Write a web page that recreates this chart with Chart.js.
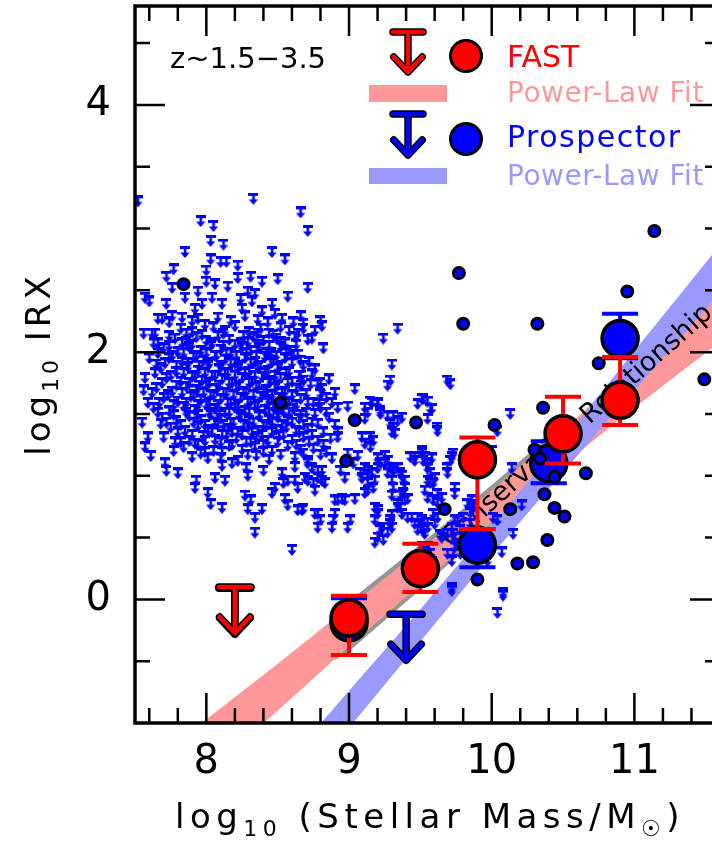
<!DOCTYPE html>
<html>
<head>
<meta charset="utf-8">
<script src="https://cdn.jsdelivr.net/npm/chart.js@4.4.1/dist/chart.umd.min.js"></script>
<style>
  html, body { margin: 0; padding: 0; overflow: hidden; background: #fff; }
  canvas { display: block; }
</style>
</head>
<body>
<canvas id="irxChart" width="724" height="844"></canvas>
<script>
// binned stacks, log10 IRX vs log10 stellar mass
const fastMass = [9.0, 9.5, 9.9, 10.5, 10.9];
const fastIRX  = [-0.15, 0.25, 1.13, 1.34, 1.61];
const fastHigh = [0.03, 0.45, 1.31, 1.64, 1.96];
const fastLow  = [-0.45, 0.06, 0.57, 1.10, 1.41];

const prospMass = [9.0, 9.9, 10.4, 10.9];
const prospIRX  = [-0.19, 0.44, 1.10, 2.11];
const prospHigh = [0.01, 0.57, 1.28, 2.31];
const prospLow  = [-0.45, 0.26, 0.94, 1.95];

// stacked upper limits
const fastLimMass  = [8.2];
const fastLimIRX   = [0.10];
const prospLimMass = [8.2, 9.4];
const prospLimIRX  = [0.09, -0.12];

// power-law fit bands
const fastFitMass = [7.9, 8.5, 9.0, 9.5, 10.0, 10.5, 11.0, 11.7];
const fastFitHigh = [-1.06, -0.52, -0.06, 0.40, 0.88, 1.37, 1.89, 2.63];
const fastFitLow  = [-1.52, -0.90, -0.38, 0.12, 0.62, 1.09, 1.55, 2.17];

const prospFitMass = [8.6, 9.0, 9.5, 10.0, 10.5, 11.0, 11.7];
const prospFitHigh = [-1.27, -0.74, -0.08, 0.60, 1.29, 2.01, 3.01];
const prospFitLow  = [-1.61, -1.04, -0.34, 0.36, 1.03, 1.69, 2.61];

// conservative relationship
const consMass = [8.9, 9.0, 9.5, 10.0, 10.38, 10.42];
const consHigh = [-0.17, -0.015, 0.445, 0.925, 1.297, 1.26];
const consLow  = [-0.49, -0.42, 0.08, 0.60, 0.98, 1.05];

// individual IR detections
const detections = [
  [7.84,2.55],[8.52,1.59],[9.04,1.45],[9.47,1.43],[8.98,1.12],[9.67,0.73],[9.80,2.23],
  [11.14,2.98],[9.77,2.64],[10.95,2.49],[10.32,2.23],[10.75,1.91],[11.49,1.78],[10.36,1.55],
  [10.02,1.41],[10.30,1.21],[10.34,1.14],[10.44,0.99],[10.66,1.02],[10.37,0.85],[10.44,0.74],
  [10.51,0.67],[10.39,0.48],[10.18,0.29],[10.29,0.30],[9.90,0.16],[10.13,0.73]
];

// individual galaxies, IRX upper limits
const cloudLimits = [
  [7.52,3.22],[8.33,3.24],[8.66,3.13],[8.71,2.98],[7.96,3.06],[8.05,3.02],[8.03,2.90],[8.12,2.87],
  [7.85,2.81],[8.46,2.81],[8.55,2.75],[8.03,2.75],[8.00,2.66],[8.10,2.73],[8.14,2.73],[8.22,2.70],
  [7.77,2.67],[7.72,2.61],[8.31,2.61],[8.22,2.60],[8.00,2.57],[8.39,2.57],[8.50,2.59],[8.15,2.53],
  [8.06,2.55],[7.76,2.52],[8.71,2.52],[7.94,2.49],[8.29,2.49],[7.57,2.44],[7.60,2.41],[7.72,2.39],
  [7.85,2.44],[8.04,2.44],[8.11,2.39],[8.24,2.43],[8.25,2.35],[8.34,2.47],[8.32,2.41],[8.57,2.45],
  [8.39,2.33],[8.46,2.39],[8.48,2.31],[8.66,2.29],[7.69,2.27],[7.76,2.29],[7.56,2.15],[7.64,2.15],
  [7.92,2.35],[7.97,2.39],[7.94,2.27],[7.99,2.22],[7.63,2.07],[7.60,1.95],[7.65,1.90],[7.57,1.79],
  [7.56,1.69],[7.59,1.59],[8.80,2.25],[8.82,2.03],[9.24,2.11],[9.34,2.19],[9.30,1.90],[9.69,1.77],
  [8.68,2.19],[8.76,2.17],[8.61,1.98],[8.66,1.93],[8.68,2.23],[8.64,2.15],[8.81,2.21],[8.74,2.11],
  [8.71,2.10],[8.66,1.81],[8.68,1.77],[8.73,1.74],[8.80,1.75],[8.81,1.70],[9.29,1.77],[9.27,1.73],
  [9.04,1.70],
  // core
  [7.66,2.27],[7.74,2.24],[7.83,2.28],[7.90,2.25],[8.08,2.28],[8.17,2.25],[8.27,2.29],[8.36,2.26],[8.43,2.24],[8.53,2.27],[8.61,2.24],
  [7.82,2.19],[7.90,2.16],[8.05,2.20],[8.13,2.17],[8.20,2.21],[8.30,2.16],[8.38,2.19],[8.44,2.15],[8.52,2.20],[8.58,2.17],
  [7.62,2.15],[7.74,2.13],[7.86,2.15],[7.97,2.14],[8.12,2.15],[8.26,2.13],[8.36,2.15],[8.47,2.14],[8.62,2.12],
  [7.78,2.11],[7.86,2.08],[7.93,2.12],[8.00,2.09],[8.08,2.13],[8.16,2.10],[8.24,2.07],[8.33,2.12],[8.40,2.09],[8.49,2.11],[8.55,2.07],
  [7.66,2.07],[7.74,2.05],[7.83,2.07],[7.90,2.06],[8.04,2.07],[8.12,2.05],[8.20,2.06],[8.29,2.08],[8.36,2.06],[8.44,2.05],[8.52,2.08],[8.63,2.06],
  [7.70,2.03],[7.80,2.00],[7.88,2.04],[7.96,2.01],[8.03,2.05],[8.10,2.02],[8.17,1.99],[8.25,2.04],[8.31,2.01],[8.37,2.03],[8.45,1.99],[8.52,2.04],[8.59,2.01],
  [7.66,1.99],[7.76,1.97],[7.84,1.99],[7.93,1.97],[8.00,1.99],[8.07,1.97],[8.14,1.99],[8.21,1.97],[8.28,1.99],[8.35,1.97],[8.42,1.99],[8.49,1.97],[8.56,1.99],[8.64,1.98],
  [7.74,1.95],[7.83,1.92],[7.91,1.96],[7.98,1.93],[8.06,1.97],[8.13,1.94],[8.20,1.91],[8.27,1.95],[8.34,1.92],[8.41,1.96],[8.47,1.93],[8.55,1.95],[8.72,1.92],
  [7.71,1.91],[7.79,1.89],[7.87,1.91],[7.95,1.89],[8.02,1.91],[8.10,1.89],[8.17,1.91],[8.24,1.89],[8.31,1.91],[8.38,1.89],[8.45,1.91],[8.52,1.89],[8.60,1.91],[8.68,1.89],
  [7.68,1.87],[7.79,1.84],[7.87,1.88],[7.94,1.85],[8.01,1.89],[8.09,1.86],[8.15,1.83],[8.22,1.87],[8.30,1.84],[8.36,1.88],[8.43,1.85],[8.50,1.87],[8.58,1.84],[8.76,1.86],
  [7.64,1.83],[7.75,1.81],[7.84,1.83],[7.92,1.81],[7.99,1.83],[8.06,1.81],[8.13,1.83],[8.20,1.81],[8.27,1.83],[8.34,1.81],[8.41,1.83],[8.48,1.81],[8.56,1.83],[8.65,1.81],[8.74,1.82],
  [7.72,1.79],[7.82,1.76],[7.90,1.80],[7.97,1.77],[8.04,1.81],[8.11,1.78],[8.18,1.75],[8.25,1.79],[8.32,1.76],[8.39,1.80],[8.45,1.77],[8.52,1.79],[8.60,1.76],[8.86,1.78],
  [7.69,1.75],[7.79,1.73],[7.88,1.75],[7.95,1.73],[8.02,1.75],[8.09,1.73],[8.16,1.75],[8.23,1.73],[8.30,1.75],[8.37,1.73],[8.44,1.75],[8.50,1.73],[8.57,1.75],[8.66,1.73],[8.78,1.74],
  [7.65,1.71],[7.76,1.68],[7.86,1.72],[7.93,1.69],[8.00,1.73],[8.07,1.70],[8.14,1.67],[8.21,1.71],[8.28,1.68],[8.35,1.72],[8.42,1.69],[8.48,1.71],[8.55,1.68],[8.63,1.70],[8.90,1.67],
  [7.62,1.67],[7.73,1.65],[7.83,1.67],[7.91,1.65],[7.98,1.67],[8.05,1.65],[8.12,1.67],[8.19,1.65],[8.26,1.67],[8.33,1.65],[8.40,1.67],[8.46,1.65],[8.53,1.67],[8.60,1.65],[8.70,1.66],[8.80,1.66],
  [7.70,1.63],[7.80,1.60],[7.89,1.64],[7.96,1.61],[8.03,1.65],[8.10,1.62],[8.17,1.59],[8.24,1.63],[8.31,1.60],[8.38,1.64],[8.44,1.61],[8.51,1.63],[8.58,1.60],[8.66,1.62],[8.75,1.59],[8.84,1.63],
  [7.67,1.59],[7.77,1.57],[7.86,1.59],[7.94,1.57],[8.02,1.59],[8.08,1.57],[8.15,1.59],[8.22,1.57],[8.29,1.59],[8.36,1.57],[8.43,1.59],[8.49,1.57],[8.56,1.59],[8.63,1.57],[8.71,1.59],[8.79,1.58],[8.88,1.59],
  [7.63,1.55],[7.74,1.52],[7.84,1.56],[7.92,1.53],[8.00,1.57],[8.06,1.54],[8.13,1.51],[8.20,1.55],[8.27,1.52],[8.34,1.56],[8.41,1.53],[8.47,1.55],[8.54,1.52],[8.61,1.54],[8.70,1.51],[8.80,1.55],
  [7.66,1.51],[7.77,1.49],[7.86,1.51],[7.94,1.49],[8.02,1.51],[8.09,1.49],[8.16,1.51],[8.23,1.49],[8.30,1.51],[8.37,1.49],[8.44,1.51],[8.50,1.49],[8.58,1.51],[8.66,1.49],[8.76,1.50],[8.84,1.51],
  [7.69,1.47],[7.79,1.44],[7.88,1.48],[7.96,1.45],[8.03,1.49],[8.10,1.46],[8.17,1.43],[8.24,1.47],[8.30,1.44],[8.37,1.48],[8.44,1.45],[8.50,1.47],[8.57,1.44],[8.65,1.46],[8.74,1.43],[8.86,1.47],
  [7.72,1.43],[7.82,1.41],[7.91,1.43],[7.99,1.41],[8.06,1.43],[8.12,1.41],[8.19,1.43],[8.26,1.41],[8.33,1.43],[8.40,1.41],[8.46,1.43],[8.53,1.41],[8.60,1.43],[8.68,1.41],[8.78,1.42],[8.90,1.41],
  [7.75,1.39],[7.85,1.36],[7.94,1.40],[8.01,1.37],[8.08,1.41],[8.15,1.38],[8.22,1.35],[8.29,1.39],[8.36,1.36],[8.42,1.40],[8.49,1.37],[8.56,1.39],[8.63,1.36],[8.71,1.38],[8.82,1.35],
  [7.80,1.35],[7.90,1.33],[8.04,1.35],[8.11,1.33],[8.18,1.35],[8.25,1.33],[8.32,1.35],[8.39,1.33],[8.46,1.35],[8.54,1.33],[8.65,1.35],[8.74,1.33],[8.92,1.35],
  [7.70,1.31],[7.88,1.28],[7.98,1.32],[8.06,1.29],[8.14,1.33],[8.21,1.30],[8.28,1.27],[8.35,1.31],[8.43,1.28],[8.51,1.32],[8.60,1.29],[8.68,1.31],[8.78,1.28],[8.87,1.30],
  [7.78,1.27],[7.94,1.25],[8.10,1.27],[8.18,1.25],[8.31,1.27],[8.40,1.25],[8.50,1.27],[8.63,1.25],[8.72,1.27],[8.82,1.25],
  [7.84,1.23],[8.05,1.20],[8.16,1.24],[8.25,1.21],[8.34,1.23],[8.46,1.20],[8.57,1.24],[8.66,1.21],[8.75,1.22],[8.84,1.19],
  [7.96,1.18],[8.11,1.19],[8.29,1.17],[8.40,1.19],[8.52,1.17],[8.68,1.18],[8.80,1.17],
  [7.90,1.15],[8.22,1.12],[8.35,1.16],[8.44,1.13],[8.62,1.15],[8.71,1.12],[8.88,1.14],
  [8.28,1.06],[8.40,1.04],[8.62,1.07],
  // lower-left tail
  [7.55,1.43],[7.59,1.31],[7.57,1.23],[7.61,1.16],[7.68,1.42],[7.71,1.10],[7.72,1.04],[7.80,1.02],
  [7.77,1.20],[7.82,1.27],[7.92,1.26],[7.99,1.28],[7.93,0.96],[7.92,0.90],[7.99,1.19],[8.01,1.14],
  [8.06,0.98],[8.13,0.96],[8.10,1.14],[8.18,1.10],[8.11,1.08],[8.01,0.86],[8.03,0.77],[8.11,0.74],
  [8.29,1.00],[8.27,0.84],[8.31,0.80],[8.29,0.73],[8.34,0.66],[8.34,0.54],[8.39,0.73],[8.46,0.86],
  [8.48,0.90],[8.55,0.81],[8.57,0.76],[8.53,1.02],[8.57,0.96],[8.54,0.94],[8.64,0.72],[8.67,0.72],
  [8.60,0.40],
  // 8.6 - 9.0
  [8.62,0.96],[8.64,0.90],[8.69,0.98],[8.71,0.96],[8.75,0.94],[8.76,0.88],[8.78,0.98],[8.81,0.96],
  [8.83,0.94],[8.81,1.04],[8.74,1.06],[8.78,1.04],[8.71,1.10],[8.90,0.80],[8.95,0.81],[8.76,0.69],
  [8.80,0.64],[8.78,0.58],[8.90,0.69],[8.89,0.64],[8.88,0.58],[8.92,0.80],[8.97,0.80],[9.04,0.81],
  [9.01,0.64],[8.99,0.58],[8.78,0.69],[8.68,0.73],[8.94,1.04],[8.97,0.98],[8.92,1.31],[8.99,1.18],
  [9.03,1.10],
  // 9.0 - 9.45
  [8.92,1.55],[8.99,1.56],[9.11,1.55],[9.16,1.59],[9.20,1.58],[9.22,1.50],[9.27,1.48],[9.31,1.48],
  [9.37,1.47],[9.34,1.44],[9.31,1.39],[9.29,1.42],[9.32,1.34],[9.30,1.35],[9.15,1.60],[9.20,1.59],
  [9.22,1.52],[9.13,1.51],[9.11,1.46],[9.09,1.31],[9.15,1.31],[9.17,1.28],[9.11,1.26],[9.15,1.23],
  [9.06,1.16],[9.11,1.06],[9.13,1.00],[9.18,0.96],[9.09,0.98],[9.13,0.88],[9.08,1.02],[9.13,1.04],
  [9.16,1.02],[9.20,1.06],[9.22,1.10],[9.13,0.94],[9.17,0.90],[9.11,0.86],[9.20,1.14],[9.25,1.10],
  [9.27,1.02],[9.30,0.96],[9.31,0.90],[9.30,0.84],[9.36,0.84],[9.41,0.81],[9.34,1.06],[9.37,1.00],
  [9.39,0.96],[9.25,1.16],[9.27,1.12],[9.29,1.06],[9.31,1.04],[9.36,1.02],[9.38,0.96],[9.39,0.90],
  [9.38,0.86],[9.18,0.74],[9.20,0.69],[9.18,0.64],[9.23,0.58],[9.27,0.54],[9.20,0.50],[9.18,0.46],
  [9.34,0.74],[9.30,0.68],[9.29,0.61],[9.20,0.72],[9.34,0.77],[9.36,0.74],[9.37,0.69],[9.39,0.80],
  [9.41,0.66],[9.29,0.64],[9.30,0.58],[9.22,0.56],[9.24,0.48],[9.44,0.66],[9.46,0.61],
  // 9.45 - 9.9
  [9.51,1.62],[9.55,1.60],[9.57,1.54],[9.55,1.46],[9.62,1.39],[9.48,1.58],[9.52,1.62],[9.58,1.54],
  [9.62,1.36],[9.46,1.15],[9.51,1.20],[9.53,1.15],[9.55,1.10],[9.57,1.02],[9.55,0.96],[9.59,0.94],
  [9.53,0.88],[9.55,0.82],[9.62,0.85],[9.65,0.82],[9.43,1.15],[9.46,1.12],[9.51,1.18],[9.52,1.12],
  [9.55,1.06],[9.58,1.14],[9.60,0.98],[9.57,0.94],[9.59,0.80],[9.62,0.78],[9.69,1.06],[9.72,1.15],
  [9.69,1.02],[9.73,1.18],[9.71,1.12],[9.74,0.85],[9.74,0.90],[9.71,1.74],[9.83,0.77],[9.85,0.70],
  [9.86,0.76],[9.86,0.80],[9.87,0.74],[9.48,0.66],[9.50,0.61],[9.48,0.56],[9.52,0.56],[9.55,0.62],
  [9.55,0.58],[9.62,0.66],[9.59,0.69],[9.51,0.64],[9.51,0.57],[9.53,0.53],[9.60,0.61],[9.64,0.52],
  [9.69,0.53],[9.74,0.50],[9.65,0.50],[9.72,0.58],[9.76,0.64],[9.80,0.66],[9.73,0.53],[9.76,0.45],
  [9.78,0.37],[9.69,0.37],[9.74,0.42],[9.73,0.37],[9.72,0.31],[9.74,0.64],[9.78,0.56],[9.55,0.42],
  [9.57,0.37],[9.58,0.30],[9.51,0.42],[9.53,0.38],[9.85,0.61],
  // beyond 9.9
  [10.13,1.50],[10.04,1.36],[10.14,1.06],[10.21,0.76],[10.15,0.53],[10.07,0.38],[10.08,0.05],
  [9.72,0.07],[10.01,0.66],[10.04,0.64],[10.00,1.20],[9.99,0.44],[9.97,0.31],[9.94,0.50],
  [9.95,0.40],[10.08,0.03],[10.04,-0.11],[9.72,0.09]
];

const xTickLabels = ['8', '9', '10', '11'];
const yTickLabels = ['0', '2', '4'];

const RED = '#ff0000';
const BLUE = '#0000ff';
const SALMON = 'rgb(255,153,153)';
const LILAC = 'rgb(153,153,255)';
const GREY = 'rgb(150,150,150)';
const FONT = '"DejaVu Sans"';

function pts(xs, ys) {
  return xs.map((v, i) => ({x: v, y: ys[i]}));
}

// little "T over arrow" glyph used for each upper limit
function limitGlyph() {
  const c = document.createElement('canvas');
  c.width = 10; c.height = 12;
  const g = c.getContext('2d');
  g.fillStyle = BLUE;
  g.fillRect(0, 0, 10, 3);
  g.fillRect(3.8, 2, 2.6, 5.5);
  g.beginPath();
  g.moveTo(0.4, 6.5); g.lineTo(9.6, 6.5); g.lineTo(5, 12);
  g.closePath(); g.fill();
  return c;
}

function drawArrow(ctx, x, y, color, len, half) {
  const path = () => {
    ctx.beginPath();
    ctx.moveTo(x - half, y); ctx.lineTo(x + half, y);
    ctx.moveTo(x, y); ctx.lineTo(x, y + len);
    ctx.moveTo(x - half * 0.95, y + len - half); ctx.lineTo(x, y + len); ctx.lineTo(x + half * 0.95, y + len - half);
  };
  ctx.save();
  ctx.lineCap = 'round'; ctx.lineJoin = 'round';
  path(); ctx.strokeStyle = '#000'; ctx.lineWidth = 7.5; ctx.stroke();
  path(); ctx.strokeStyle = color; ctx.lineWidth = 4.5; ctx.stroke();
  ctx.restore();
}

function drawRich(ctx, parts, x, y) {
  let w = 0;
  parts.forEach(p => { ctx.font = p[1] + 'px ' + FONT; w += ctx.measureText(p[0]).width; });
  let cx = x - w / 2;
  parts.forEach(p => {
    ctx.font = p[1] + 'px ' + FONT;
    ctx.fillText(p[0], cx, y + p[2]);
    cx += ctx.measureText(p[0]).width;
  });
}

function bandEdge(xs, ys, fill, color, order) {
  return {
    type: 'line', data: pts(xs, ys), showLine: true, fill: fill,
    backgroundColor: color, borderColor: 'rgba(0,0,0,0)', borderWidth: 0,
    pointRadius: 0, tension: 0, order: order
  };
}

const errorBars = {
  id: 'errorBars',
  beforeDatasetDraw(chart, args) {
    const ds = chart.data.datasets[args.index];
    if (!ds.errHigh) return;
    const {ctx, scales: {y}} = chart;
    ctx.save();
    ctx.strokeStyle = ds.errColor;
    ctx.lineWidth = 4;
    args.meta.data.forEach((p, i) => {
      const yh = y.getPixelForValue(ds.errHigh[i]);
      const yl = y.getPixelForValue(ds.errLow[i]);
      ctx.beginPath();
      ctx.moveTo(p.x, yh); ctx.lineTo(p.x, yl);
      ctx.moveTo(p.x - 18, yh); ctx.lineTo(p.x + 18, yh);
      ctx.moveTo(p.x - 18, yl); ctx.lineTo(p.x + 18, yl);
      ctx.stroke();
    });
    ctx.restore();
  },
  afterDatasetDraw(chart, args) {
    const ds = chart.data.datasets[args.index];
    const {ctx, scales: {x, y}} = chart;
    if (ds.limitArrow) {
      args.meta.data.forEach(p => drawArrow(ctx, p.x, p.y, ds.arrowColor, 46, 16));
    }
    if (ds.bandLabel) {
      const o = chart.options.plugins.errorBars;
      ctx.save();
      ctx.translate(x.getPixelForValue(o.labelAt[0]), y.getPixelForValue(o.labelAt[1]));
      ctx.rotate(o.labelAngle * Math.PI / 180);
      ctx.font = '27px ' + FONT;
      ctx.fillStyle = '#000';
      ctx.textAlign = 'center';
      ctx.textBaseline = 'middle';
      ctx.fillText(o.label, 0, 0);
      ctx.restore();
    }
  }
};

const frameAxes = {
  id: 'frameAxes',
  afterDatasetsDraw(chart) {
    const {ctx, chartArea: a, scales: {x, y}} = chart;
    ctx.save();
    ctx.strokeStyle = '#000';
    ctx.lineWidth = 2.5;
    for (let i = 1; i <= 20; i++) {
      const v = 7.5 + i * 0.2 - 0.1;
      const px = x.getPixelForValue(v);
      const len = Math.abs(v - Math.round(v)) < 1e-6 ? 30 : 15;
      ctx.beginPath();
      ctx.moveTo(px, a.bottom); ctx.lineTo(px, a.bottom - len);
      ctx.moveTo(px, a.top); ctx.lineTo(px, a.top + len);
      ctx.stroke();
    }
    for (let i = 1; i <= 11; i++) {
      const v = -1 + i * 0.5;
      const py = y.getPixelForValue(v);
      const len = (v === 0 || v === 2 || v === 4) ? 30 : 15;
      ctx.beginPath();
      ctx.moveTo(a.left, py); ctx.lineTo(a.left + len, py);
      ctx.moveTo(a.right, py); ctx.lineTo(a.right - len, py);
      ctx.stroke();
    }
    ctx.lineWidth = 3.5;
    ctx.strokeRect(a.left, a.top, a.right - a.left, a.bottom - a.top);
    ctx.restore();
  },
  afterDraw(chart) {
    const {ctx, scales: {x, y}} = chart;
    ctx.save();
    ctx.fillStyle = '#000';
    ctx.font = '40px ' + FONT;
    ctx.textAlign = 'center';
    ctx.textBaseline = 'middle';
    xTickLabels.forEach(t => ctx.fillText(t, x.getPixelForValue(+t), 763));
    ctx.textAlign = 'right';
    yTickLabels.forEach(t => ctx.fillText(t, 111, y.getPixelForValue(+t)));

    ctx.textAlign = 'left';
    ctx.textBaseline = 'alphabetic';
    ctx.letterSpacing = '5.5px';
    drawRich(ctx, [['log', 34, 0], ['10', 22, 8], [' (Stellar Mass/M', 34, 0], ['\u2609', 22, 8], [')', 34, 0]], 430, 828);
    ctx.letterSpacing = '4px';
    ctx.save();
    ctx.translate(50, 364);
    ctx.rotate(-Math.PI / 2);
    drawRich(ctx, [['log', 34, 0], ['10', 22, 8], [' IRX', 34, 0]], 0, 0);
    ctx.restore();
    ctx.letterSpacing = '0px';

    // key
    ctx.font = '29px ' + FONT;
    ctx.fillText('z~1.5\u22123.5', 170, 68);
    drawArrow(ctx, 408, 32, RED, 40, 15);
    drawArrow(ctx, 408, 114, BLUE, 41, 15);
    [[56, RED], [139, BLUE]].forEach(([cy, col]) => {
      ctx.beginPath();
      ctx.arc(466, cy, 15.5, 0, Math.PI * 2);
      ctx.fillStyle = col; ctx.fill();
      ctx.lineWidth = 3; ctx.strokeStyle = '#000'; ctx.stroke();
    });
    ctx.fillStyle = SALMON; ctx.fillRect(369, 85, 78, 17);
    ctx.fillStyle = LILAC; ctx.fillRect(369, 168, 78, 16);
    ctx.font = '30px ' + FONT;
    ctx.fillStyle = RED; ctx.fillText('FAST', 507, 67);
    ctx.letterSpacing = '1.5px';
    ctx.fillStyle = BLUE; ctx.fillText('Prospector', 507, 147);
    ctx.font = '28px ' + FONT;
    ctx.letterSpacing = '0.5px';
    ctx.fillStyle = SALMON; ctx.fillText('Power-Law Fit', 507, 102);
    ctx.fillStyle = LILAC; ctx.fillText('Power-Law Fit', 507, 185);
    ctx.restore();
  }
};

const glyph = limitGlyph();

const datasets = [
  bandEdge(consMass, consLow, false, GREY, 100),
  bandEdge(consMass, consHigh, '-1', GREY, 100),
  bandEdge(fastFitMass, fastFitLow, false, SALMON, 90),
  bandEdge(fastFitMass, fastFitHigh, '-1', SALMON, 90),
  bandEdge(prospFitMass, prospFitLow, false, LILAC, 80),
  Object.assign(bandEdge(prospFitMass, prospFitHigh, '-1', LILAC, 80), {bandLabel: true}),
  {
    data: cloudLimits.map(p => ({x: p[0], y: p[1]})),
    pointStyle: glyph, pointRadius: 4, order: 70
  },
  {
    data: pts(prospMass, prospIRX), pointRadius: 18, borderWidth: 3.5,
    backgroundColor: BLUE, borderColor: '#000', order: 60,
    errHigh: prospHigh, errLow: prospLow, errColor: BLUE
  },
  {
    data: pts(prospLimMass, prospLimIRX), pointRadius: 0.5, backgroundColor: 'rgba(0,0,0,0)',
    borderWidth: 0, order: 55, limitArrow: true, arrowColor: BLUE
  },
  {
    data: detections.map(p => ({x: p[0], y: p[1]})), pointRadius: 5.5, borderWidth: 3,
    backgroundColor: BLUE, borderColor: '#000', order: 50
  },
  {
    data: pts(fastLimMass, fastLimIRX), pointRadius: 0.5, backgroundColor: 'rgba(0,0,0,0)',
    borderWidth: 0, order: 45, limitArrow: true, arrowColor: RED
  },
  {
    data: pts(fastMass, fastIRX), pointRadius: 18, borderWidth: 3.5,
    backgroundColor: RED, borderColor: '#000', order: 40,
    errHigh: fastHigh, errLow: fastLow, errColor: RED
  }
];

new Chart(document.getElementById('irxChart'), {
  type: 'scatter',
  data: {datasets: datasets},
  options: {
    responsive: false,
    animation: false,
    events: [],
    devicePixelRatio: 1,
    layout: {autoPadding: false, padding: {left: 135, top: 6, right: 4, bottom: 121}},
    scales: {
      x: {type: 'linear', min: 7.5, max: 11.6, display: false},
      y: {type: 'linear', min: -1, max: 4.8, display: false}
    },
    plugins: {
      legend: {display: false},
      tooltip: {enabled: false},
      errorBars: {label: 'Conservative Relationship', labelAt: [10.60, 1.40], labelAngle: -41.5}
    }
  },
  plugins: [errorBars, frameAxes]
});
</script>
</body>
</html>
